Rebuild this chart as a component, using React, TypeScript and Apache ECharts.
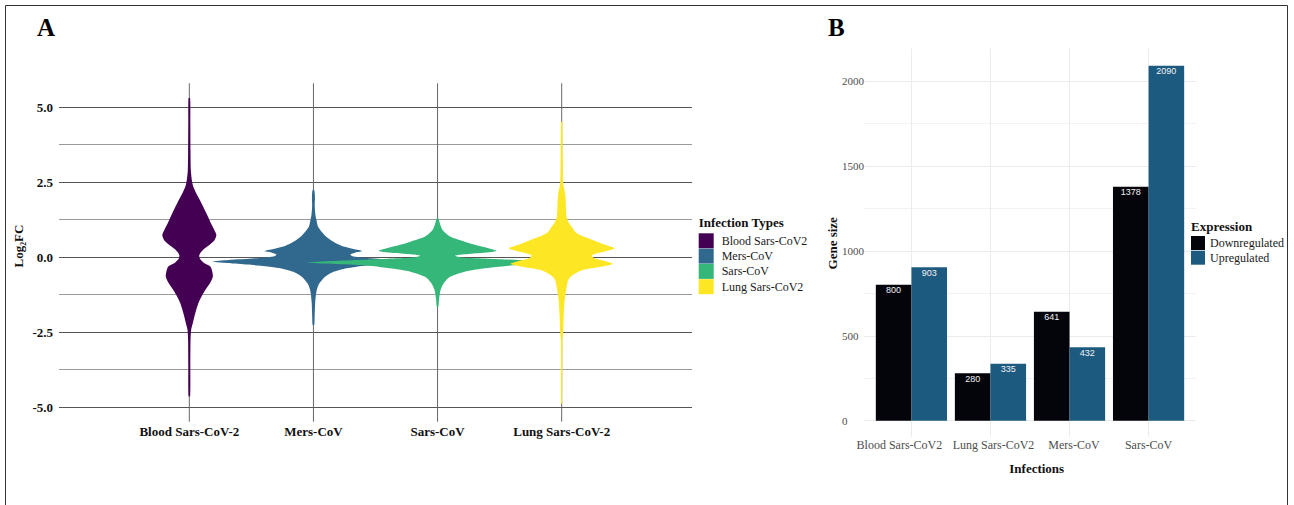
import React, { useEffect, useRef } from "react";
import * as echarts from "echarts";

// ---------- Panel A data ----------
const infectionTypes = ["Blood Sars-CoV-2", "Mers-CoV", "Sars-CoV", "Lung Sars-CoV-2"];
const legendNamesA = ["Blood Sars-CoV2", "Mers-CoV", "Sars-CoV", "Lung Sars-CoV2"];
const violinColors = ["#440154", "#31688e", "#35b779", "#fde725"];

// [log2FC, density], top to bottom
const bloodDensity = [
  [5.29, 0.8], [4.5, 1], [3.5, 1.2], [2.9, 1.5], [2.57, 2.5], [2.34, 4], [2.12, 7], [1.9, 10.5],
  [1.46, 17], [1.12, 21.7], [0.9, 25], [0.73, 27], [0.55, 25], [0.4, 20], [0.25, 14], [0.07, 10],
  [-0.05, 10.5], [-0.18, 14], [-0.32, 21], [-0.5, 23], [-0.66, 23.5], [-0.85, 21], [-1.1, 16],
  [-1.3, 12.5], [-1.54, 9], [-1.75, 7], [-1.99, 5], [-2.2, 3.5], [-2.43, 1.8], [-2.8, 1.2],
  [-3.6, 1], [-4.64, 0.8],
];
const mersDensity = [
  [2.23, 0.8], [2.0, 1.5], [1.7, 1.3], [1.4, 2], [1.23, 3], [1.02, 4.5], [0.85, 8], [0.7, 12],
  [0.57, 17], [0.45, 23], [0.35, 30], [0.27, 40], [0.2, 49], [0.15, 42], [0.08, 37], [0.02, 40],
  [-0.04, 58], [-0.1, 85], [-0.16, 101], [-0.22, 80], [-0.27, 60], [-0.33, 42], [-0.38, 32],
  [-0.49, 20], [-0.6, 14], [-0.71, 10], [-0.93, 5], [-1.15, 3], [-1.5, 1.8], [-2.0, 1.2], [-2.27, 0.8],
];
const sarsDensity = [
  [1.29, 0.8], [1.1, 2.5], [0.9, 5], [0.68, 12.5], [0.51, 27], [0.4, 38], [0.3, 50], [0.2, 59],
  [0.13, 42], [0.08, 25], [0.04, 17.5], [-0.02, 25], [-0.06, 50], [-0.1, 80], [-0.14, 110],
  [-0.18, 130], [-0.22, 112], [-0.27, 80], [-0.33, 58], [-0.4, 42], [-0.49, 27], [-0.66, 12.5],
  [-0.88, 6], [-1.1, 3], [-1.4, 1.5], [-1.66, 0.8],
];
const lungDensity = [
  [4.51, 0.6], [3.5, 1], [2.46, 1.5], [2.2, 3], [2.01, 3.8], [1.6, 4.3], [1.34, 4.8], [1.15, 7],
  [1.01, 10], [0.79, 15], [0.57, 31], [0.4, 44], [0.29, 53], [0.2, 45], [0.1, 33], [0.04, 30],
  [-0.05, 33], [-0.15, 45], [-0.23, 51], [-0.33, 38], [-0.43, 21], [-0.6, 11], [-0.77, 6.5],
  [-1.1, 4.5], [-1.43, 3], [-1.99, 2], [-2.5, 1.5], [-2.8, 0.8], [-4.89, 0.5],
];
const densities = [bloodDensity, mersDensity, sarsDensity, lungDensity];
const panelARangeY = [-5.49, 5.79];

// ---------- Panel B data ----------
const infectionsB = ["Blood Sars-CoV2", "Lung Sars-CoV2", "Mers-CoV", "Sars-CoV"];
const expressionNames = ["Downregulated", "Upregulated"];
const downregulated = [800, 280, 641, 1378];
const upregulated = [903, 335, 432, 2090];
const barColors = ["#04040b", "#1d5a80"];
const panelBRangeY = [-95, 2192];

const SERIF = "Liberation Serif";
const SANS = "Liberation Sans";
const densityToWidth = 1 / 124;

// label nudges (left/right padding) for panel B category labels
const labelPadB = [[0, 24, 0, 0], [0, 0, 0, 6], [0, 0, 0, 9], [0, 0, 0, 0]];

export default function App() {
  const ref = useRef<HTMLDivElement>(null);

  useEffect(() => {
    document.body.style.margin = "0";
    if (!ref.current) return;
    const chart = echarts.init(ref.current, null, { renderer: "svg" });

    const vLinesA = {
      type: "custom",
      xAxisIndex: 0,
      yAxisIndex: 0,
      silent: true,
      data: infectionTypes.map((_, i) => [i + 1, 0]),
      renderItem: (_p: any, api: any) => {
        const x = api.value(0);
        const a = api.coord([x, panelARangeY[1]]);
        const b = api.coord([x, panelARangeY[0]]);
        return {
          type: "line",
          shape: { x1: a[0], y1: a[1], x2: b[0], y2: b[1] },
          style: { stroke: "#666", lineWidth: 1, fill: "none" },
        };
      },
    };

    const violins = densities.map((dens, idx) => ({
      type: "custom",
      name: legendNamesA[idx],
      xAxisIndex: 0,
      yAxisIndex: 0,
      silent: true,
      itemStyle: { color: violinColors[idx] },
      data: [[idx + 1, 0]],
      renderItem: (_p: any, api: any) => {
        const cx = api.value(0);
        const right = dens.map(([v, d]) => api.coord([cx + d * densityToWidth, v]));
        const left = dens
          .slice()
          .reverse()
          .map(([v, d]) => api.coord([cx - d * densityToWidth, v]));
        return {
          type: "polygon",
          shape: { points: right.concat(left), smooth: 0.25 },
          style: { fill: violinColors[idx], stroke: "none" },
        };
      },
    }));

    const vLinesB = {
      type: "custom",
      xAxisIndex: 1,
      yAxisIndex: 1,
      silent: true,
      data: infectionsB.map((_, i) => [i + 1, 0]),
      renderItem: (_p: any, api: any) => {
        const x = api.value(0);
        const a = api.coord([x, panelBRangeY[1]]);
        const b = api.coord([x, panelBRangeY[0]]);
        return {
          type: "line",
          shape: { x1: a[0], y1: a[1], x2: b[0], y2: b[1] },
          style: { stroke: "#ebebeb", lineWidth: 1, fill: "none" },
        };
      },
    };

    const barSeries = [downregulated, upregulated].map((vals, si) => ({
      type: "bar",
      name: expressionNames[si],
      xAxisIndex: 1,
      yAxisIndex: 1,
      data: vals.map((v, i) => [i + 1, v]),
      barWidth: 35.6,
      barGap: "0%",
      clip: false,
      itemStyle: { color: barColors[si] },
      label: {
        show: true,
        position: "insideTop",
        distance: 1,
        color: "#f2f2f2",
        fontSize: 9,
        fontFamily: SANS,
        formatter: (p: any) => String(p.value[1]),
      },
    }));

    const richB: any = {};
    infectionsB.forEach((_, i) => {
      richB["c" + i] = { fontSize: 12, color: "#4d4d4d", fontFamily: SERIF, padding: labelPadB[i] };
    });

    const makeBLabelAxis = (values: number[], show: boolean) => ({
      type: "value",
      gridIndex: 1,
      position: "bottom",
      min: 0.4,
      max: 4.6,
      axisLine: { show: false },
      axisTick: { show: false },
      splitLine: { show: false },
      axisLabel: {
        show,
        customValues: values,
        hideOverlap: false,
        formatter: (v: number) => {
          const i = Math.round(v) - 1;
          return infectionsB[i] ? `{c${i}|${infectionsB[i]}}` : "";
        },
        rich: richB,
        fontSize: 12,
        color: "#4d4d4d",
        margin: 18,
        fontFamily: SERIF,
      },
    });

    const option: any = {
      animation: false,
      textStyle: { fontFamily: SERIF },
      grid: [
        { left: 59, right: 602, top: 107, bottom: 98 },
        { left: 864, right: 98, top: 81, bottom: 84.3 },
      ],
      xAxis: [
        {
          type: "value",
          gridIndex: 0,
          min: -0.05,
          max: 5.05,
          axisLine: { show: false },
          axisTick: { show: false },
          splitLine: { show: false },
          axisLabel: {
            customValues: [1, 2, 3, 4],
            hideOverlap: false,
            formatter: (v: number) => infectionTypes[Math.round(v) - 1] ?? "",
            fontWeight: "bold",
            fontSize: 13,
            color: "#111",
            margin: 18,
            fontFamily: SERIF,
          },
        },
        makeBLabelAxis([1, 3], true),
        makeBLabelAxis([2, 4], true),
      ],
      yAxis: [
        {
          type: "value",
          gridIndex: 0,
          min: -5,
          max: 5,
          interval: 2.5,
          axisLine: { show: false },
          axisTick: { show: true, length: 4, lineStyle: { color: "#555", width: 1 } },
          axisLabel: {
            formatter: (v: number) => v.toFixed(1),
            fontWeight: "bold",
            fontSize: 13,
            color: "#111",
            margin: 6,
            fontFamily: SERIF,
          },
          splitLine: { show: true, lineStyle: { color: "#555", width: 1 } },
          minorTick: { show: false, splitNumber: 2 },
          minorSplitLine: { show: true, lineStyle: { color: "#9a9a9a", width: 1 } },
        },
        {
          type: "value",
          gridIndex: 1,
          min: 0,
          max: 2000,
          interval: 500,
          axisLine: { show: false },
          axisTick: { show: false },
          axisLabel: {
            formatter: (v: number) => String(v),
            align: "left",
            margin: 22,
            fontSize: 11,
            color: "#4d4d4d",
            fontFamily: SERIF,
          },
          splitLine: { show: true, lineStyle: { color: "#ebebeb", width: 1 } },
          minorTick: { show: false, splitNumber: 2 },
          minorSplitLine: { show: true, lineStyle: { color: "#f2f2f2", width: 1 } },
        },
      ],
      legend: [
        {
          orient: "vertical",
          left: 698.7,
          top: 233.3,
          padding: 0,
          itemWidth: 15,
          itemHeight: 15,
          itemGap: 0.3,
          icon: "rect",
          selectedMode: false,
          data: legendNamesA.map((n, i) => ({ name: n, itemStyle: { color: violinColors[i] } })),
          textStyle: { fontSize: 12, color: "#1a1a1a", fontFamily: SERIF, padding: [0, 0, 0, 3] },
        },
        {
          orient: "vertical",
          left: 1191,
          top: 236,
          padding: 0,
          itemWidth: 14,
          itemHeight: 14,
          itemGap: 0.7,
          icon: "rect",
          selectedMode: false,
          data: expressionNames.map((n, i) => ({ name: n, itemStyle: { color: barColors[i] } })),
          textStyle: { fontSize: 12, color: "#1a1a1a", fontFamily: SERIF },
        },
      ],
      graphic: [
        {
          type: "rect",
          silent: true,
          shape: { x: 5.5, y: 5.5, width: 1282, height: 520 },
          style: { fill: "none", stroke: "#333", lineWidth: 1 },
        },
        {
          type: "text",
          x: 37,
          y: 27,
          style: { text: "A", fontSize: 25, fontWeight: "bold", fontFamily: SERIF, fill: "#000", align: "left", verticalAlign: "middle" },
        },
        {
          type: "text",
          x: 828,
          y: 27,
          style: { text: "B", fontSize: 25, fontWeight: "bold", fontFamily: SERIF, fill: "#000", align: "left", verticalAlign: "middle" },
        },
        {
          type: "text",
          x: 698.7,
          y: 222,
          style: { text: "Infection Types", fontSize: 13, fontWeight: "bold", fontFamily: SERIF, fill: "#111", align: "left", verticalAlign: "middle" },
        },
        {
          type: "text",
          x: 1191,
          y: 226,
          style: { text: "Expression", fontSize: 13, fontWeight: "bold", fontFamily: SERIF, fill: "#111", align: "left", verticalAlign: "middle" },
        },
        {
          type: "text",
          x: 18.3,
          y: 246,
          rotation: Math.PI / 2,
          style: { text: "Log₂FC", fontSize: 13, fontWeight: "bold", fontFamily: SERIF, fill: "#111", align: "center", verticalAlign: "middle" },
        },
        {
          type: "text",
          x: 832.3,
          y: 243.3,
          rotation: Math.PI / 2,
          style: { text: "Gene size", fontSize: 13, fontWeight: "bold", fontFamily: SERIF, fill: "#111", align: "center", verticalAlign: "middle" },
        },
        {
          type: "text",
          x: 1036.7,
          y: 468.3,
          style: { text: "Infections", fontSize: 13, fontWeight: "bold", fontFamily: SERIF, fill: "#111", align: "center", verticalAlign: "middle" },
        },
      ],
      series: [vLinesA, ...violins, vLinesB, ...barSeries],
    };

    chart.setOption(option);
    return () => chart.dispose();
  }, []);

  return <div ref={ref} style={{ width: 1294, height: 505 }} />;
}
